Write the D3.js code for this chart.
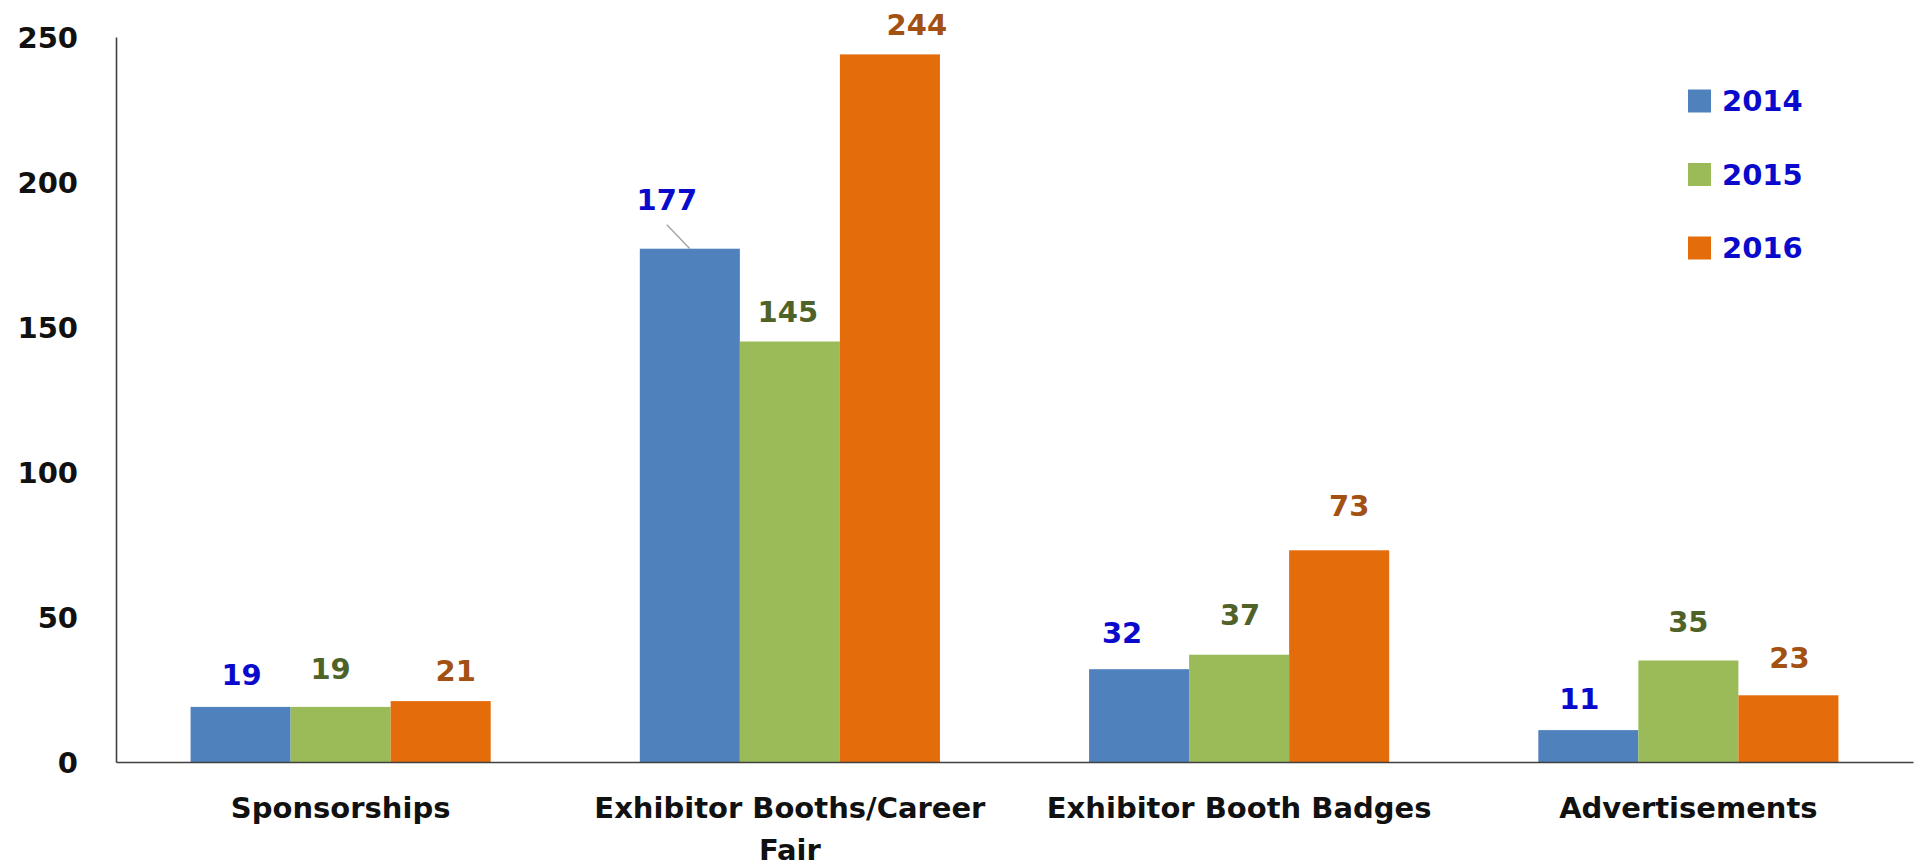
<!DOCTYPE html>
<html>
<head>
<meta charset="utf-8">
<script src="https://cdn.jsdelivr.net/npm/d3@7"></script>
<style>
    html, body { margin: 0; padding: 0; background: #fff; overflow: hidden; }
    svg { display: block; }
    text { font-family: "DejaVu Sans", Verdana, sans-serif; font-weight: bold; }
</style>
</head>
<body>
<div id="viz"></div>
<script>
// chart data
const categories = ["Sponsorships", "Exhibitor Booths/Career Fair", "Exhibitor Booth Badges", "Advertisements"];
const years = ["2014", "2015", "2016"];
const values2014 = [19, 177, 32, 11];
const values2015 = [19, 145, 37, 35];
const values2016 = [21, 244, 73, 23];
const yTicks = [0, 50, 100, 150, 200, 250];

// styling
const barColors = ["#4F81BD", "#9BBB59", "#E46C0A"];
const labelColors = ["#0A0ACC", "#4F6228", "#A35113"];
const legendTextColor = "#0A0ACC";
// hand placed data label nudges (like Excel), px: [dx, gap above bar]
const labelDx = [[1, -23, -17, -9], [-10, -2, 1, 0], [15, 27, 10, 1]];
const labelGap = [[32, 49, 36, 31], [38, 30, 40, 39], [30, 30, 44, 37]];

const width = 1921;
const height = 868;

const svg = d3.select("#viz")
    .append("svg")
    .attr("width", width)
    .attr("height", height);

const margin = {top: 37, right: 8, bottom: 106, left: 116};
const innerWidth = width - margin.left - margin.right;
const innerHeight = height - margin.top - margin.bottom;

const series = [values2014, values2015, values2016];
const data = categories.map((c, i) => ({
    category: c,
    vals: years.map((y, j) => ({year: y, s: j, i: i, value: series[j][i]}))
}));

const x0 = d3.scaleBand()
    .domain(categories)
    .range([0, innerWidth])
    .paddingInner(0.332)
    .paddingOuter(0.166);

const x1 = d3.scaleBand()
    .domain(years)
    .range([0, x0.bandwidth()]);

const yScale = d3.scaleLinear()
    .domain([0, 250])
    .range([innerHeight, 0]);

const g = svg.append("g")
    .attr("transform", `translate(${margin.left}, ${margin.top})`);

// y axis
const yAxisG = g.append("g")
    .call(d3.axisLeft(yScale).tickValues(yTicks).tickSize(0).tickSizeOuter(0).tickPadding(38));
yAxisG.select(".domain").attr("stroke", "#404040").attr("stroke-width", 1.6);
yAxisG.selectAll("text")
    .attr("font-size", 29)
    .attr("fill", "#111")
    .attr("dy", "0.35em");

// bars
const groups = g.selectAll(".grp").data(data)
    .enter().append("g")
        .attr("class", "grp")
        .attr("transform", d => `translate(${x0(d.category)}, 0)`);

groups.selectAll("rect").data(d => d.vals)
    .enter().append("rect")
        .attr("x", d => x1(d.year))
        .attr("y", d => yScale(d.value))
        .attr("width", x1.bandwidth())
        .attr("height", d => innerHeight - yScale(d.value))
        .attr("fill", d => barColors[d.s]);

// leader line where the label was dragged away
groups.selectAll(".leader").data(d => d.vals.filter(v => labelGap[v.s][v.i] > 45))
    .enter().append("line")
        .attr("class", "leader")
        .attr("x1", d => x1(d.year) + x1.bandwidth() / 2 + labelDx[d.s][d.i])
        .attr("y1", d => yScale(d.value) - labelGap[d.s][d.i] + 25)
        .attr("x2", d => x1(d.year) + x1.bandwidth() / 2)
        .attr("y2", d => yScale(d.value))
        .attr("stroke", "#A6A6A6")
        .attr("stroke-width", 1.5);

// data labels
groups.selectAll(".lbl").data(d => d.vals)
    .enter().append("text")
        .attr("class", "lbl")
        .attr("x", d => x1(d.year) + x1.bandwidth() / 2 + labelDx[d.s][d.i])
        .attr("y", d => yScale(d.value) - labelGap[d.s][d.i])
        .attr("dy", "0.35em")
        .attr("text-anchor", "middle")
        .attr("font-size", 29)
        .attr("fill", d => labelColors[d.s])
        .text(d => d.value);

// x axis (line only, labels drawn below)
const xAxisG = g.append("g")
    .attr("transform", `translate(0, ${innerHeight})`)
    .call(d3.axisBottom(x0).tickSize(0).tickSizeOuter(0));
xAxisG.select(".domain").attr("stroke", "#404040").attr("stroke-width", 1.6);
xAxisG.selectAll(".tick").remove();

// category labels, wrapped to the band step
const wrapWidth = x0.step();
const catLabels = g.selectAll(".cat").data(categories)
    .enter().append("text")
        .attr("class", "cat")
        .attr("x", d => x0(d) + x0.bandwidth() / 2)
        .attr("y", innerHeight + 46)
        .attr("text-anchor", "middle")
        .attr("font-size", 29)
        .attr("fill", "#111");

catLabels.each(function(d) {
    const text = d3.select(this);
    const words = d.split(" ");
    let line = [];
    let tspan = text.append("tspan").attr("x", text.attr("x")).attr("dy", "0.35em");
    words.forEach(w => {
        line.push(w);
        tspan.text(line.join(" "));
        if (tspan.node().getComputedTextLength() > wrapWidth && line.length > 1) {
            line.pop();
            tspan.text(line.join(" "));
            line = [w];
            tspan = text.append("tspan").attr("x", text.attr("x")).attr("dy", 42).text(w);
        }
    });
});

// legend
const legend = svg.append("g")
    .attr("transform", "translate(1688, 101)");

const legendRow = legend.selectAll("g").data(years)
    .enter().append("g")
        .attr("transform", (d, i) => `translate(0, ${i * 73.5})`);

legendRow.append("rect")
    .attr("y", -11.5)
    .attr("width", 23)
    .attr("height", 23)
    .attr("fill", (d, i) => barColors[i]);

legendRow.append("text")
    .attr("x", 34)
    .attr("dy", "0.35em")
    .attr("font-size", 29)
    .attr("fill", legendTextColor)
    .text(d => d);
</script>
</body>
</html>
